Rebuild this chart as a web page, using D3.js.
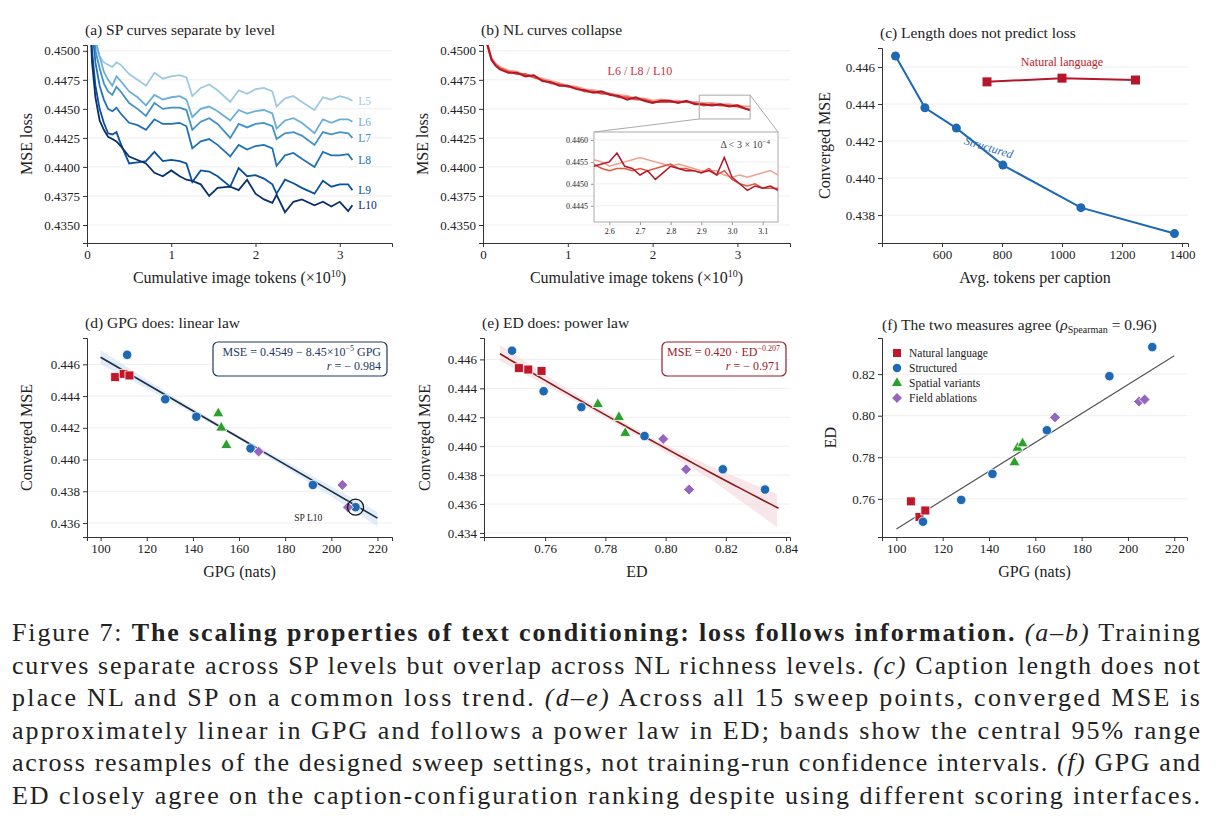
<!DOCTYPE html>
<html><head><meta charset="utf-8">
<script src="https://cdn.jsdelivr.net/npm/d3@7"></script>
<style>body{margin:0;background:#fff}text{font-family:"Liberation Serif","Times New Roman","DejaVu Serif",serif;fill:#222}</style>
</head><body><svg id="c" width="1219" height="827"></svg>
<script>
// ---------- DATA ----------
const spX = [0.03,0.06,0.1,0.15,0.2,0.25,0.3,0.35,0.4,0.5,0.6,0.7,0.8,0.9,1.0,1.1,1.18,1.25,1.35,1.45,1.55,1.7,1.8,1.9,2.0,2.1,2.2,2.25,2.35,2.45,2.55,2.7,2.8,2.9,3.0,3.1,3.15];
const spL5 = [0.4560,0.4530,0.4505,0.4495,0.4490,0.4488,0.4486,0.4490,0.4488,0.4480,0.4475,0.4470,0.4481,0.4476,0.4478,0.4479,0.4477,0.4461,0.4468,0.4471,0.4466,0.4456,0.4466,0.4463,0.4467,0.4468,0.4465,0.4452,0.4459,0.4461,0.4456,0.4449,0.4460,0.4458,0.4461,0.4459,0.4457];
const spL6 = [0.4570,0.4540,0.4510,0.4495,0.4482,0.4475,0.4470,0.4478,0.4474,0.4465,0.4460,0.4453,0.4462,0.4458,0.4460,0.4461,0.4458,0.4443,0.4450,0.4452,0.4448,0.4440,0.4449,0.4446,0.4448,0.4449,0.4446,0.4433,0.4440,0.4442,0.4438,0.4429,0.4441,0.4438,0.4441,0.4441,0.4439];
const spL7 = [0.4565,0.4530,0.4500,0.4485,0.4472,0.4465,0.4462,0.4469,0.4465,0.4455,0.4450,0.4444,0.4455,0.4450,0.4451,0.4451,0.4449,0.4432,0.4439,0.4442,0.4437,0.4425,0.4437,0.4434,0.4437,0.4438,0.4435,0.4424,0.4429,0.4430,0.4427,0.4419,0.4430,0.4428,0.4430,0.4429,0.4425];
const spL8 = [0.4560,0.4520,0.4490,0.4470,0.4458,0.4450,0.4448,0.4451,0.4446,0.4438,0.4436,0.4432,0.4441,0.4437,0.4437,0.4438,0.4435,0.4416,0.4422,0.4424,0.4419,0.4409,0.4419,0.4415,0.4418,0.4419,0.4416,0.4401,0.4410,0.4412,0.4407,0.4400,0.4413,0.4410,0.4410,0.4411,0.4406];
const spL9 = [0.4540,0.4500,0.4470,0.4450,0.4438,0.4429,0.4428,0.4430,0.4420,0.4403,0.4404,0.4405,0.4413,0.4405,0.4406,0.4405,0.4403,0.4387,0.4397,0.4396,0.4392,0.4383,0.4399,0.4392,0.4393,0.4390,0.4385,0.4377,0.4389,0.4386,0.4382,0.4377,0.4388,0.4383,0.4385,0.4385,0.4380];
const spL10 = [0.4540,0.4490,0.4460,0.4440,0.4432,0.4426,0.4424,0.4422,0.4418,0.4409,0.4406,0.4403,0.4395,0.4392,0.4397,0.4392,0.4389,0.4388,0.4385,0.4375,0.4382,0.4383,0.4380,0.4389,0.4377,0.4372,0.4369,0.4376,0.4361,0.4370,0.4372,0.4367,0.4370,0.4366,0.4370,0.4362,0.4367];
const spNames = ["L5","L6","L7","L8","L9","L10"];

const nlX = [0.02,0.05,0.1,0.15,0.2,0.3,0.4,0.5,0.6,0.7,0.8,0.9,1.0,1.1,1.2,1.3,1.4,1.5,1.6,1.7,1.8,1.9,2.0,2.1,2.2,2.3,2.4,2.5,2.6,2.7,2.8,2.9,3.0,3.1,3.15];
const nlL6 = [0.4532,0.4507,0.4494,0.4489,0.4486,0.4483,0.4482,0.4479,0.4478,0.4476,0.4474,0.4472,0.4470,0.4469,0.4467,0.4466,0.4465,0.4463,0.4462,0.4461,0.4459,0.4459,0.4457,0.4458,0.4457,0.4457,0.4456,0.4456,0.4455,0.4455,0.4454,0.4454,0.4453,0.4452,0.4452];
const nlL8 = [0.4528,0.4505,0.4493,0.4488,0.4485,0.4482,0.4480,0.4480,0.4477,0.4475,0.4472,0.4471,0.4469,0.4468,0.4465,0.4465,0.4463,0.4463,0.4460,0.4460,0.4458,0.4458,0.4456,0.4456,0.4456,0.4456,0.4456,0.4455,0.4453,0.4454,0.4453,0.4453,0.4452,0.4450,0.4449];
const nlL10 = [0.4530,0.4506,0.4492,0.4487,0.4484,0.4481,0.4481,0.4478,0.4479,0.4474,0.4473,0.4470,0.4470,0.4467,0.4466,0.4464,0.4465,0.4462,0.4461,0.4458,0.4460,0.4457,0.4455,0.4457,0.4457,0.4455,0.4457,0.4454,0.4454,0.4453,0.4454,0.4452,0.4453,0.4450,0.4449];
const inX = [2.55,2.575,2.6,2.625,2.65,2.675,2.7,2.725,2.75,2.775,2.8,2.825,2.85,2.875,2.9,2.925,2.95,2.975,3.0,3.025,3.05,3.075,3.1,3.125,3.15];
const inL6 = [0.44555,0.44550,0.44540,0.44545,0.44550,0.44555,0.44560,0.44555,0.44550,0.44545,0.44540,0.44545,0.44540,0.44535,0.44530,0.44530,0.44530,0.44520,0.44515,0.44520,0.44515,0.44520,0.44525,0.44530,0.44520];
const inL8 = [0.44545,0.44535,0.44530,0.44535,0.44535,0.44530,0.44535,0.44530,0.44535,0.44540,0.44545,0.44535,0.44535,0.44530,0.44525,0.44535,0.44520,0.44530,0.44510,0.44500,0.44495,0.44500,0.44490,0.44490,0.44490];
const inL10 = [0.44540,0.44545,0.44550,0.44570,0.44540,0.44535,0.44520,0.44530,0.44510,0.44525,0.44540,0.44535,0.44530,0.44530,0.44525,0.44530,0.44520,0.44560,0.44515,0.44500,0.44485,0.44495,0.44490,0.44495,0.44485];

const stTokens = [445,543,648,803,1063,1375];
const stMSE = [0.4466,0.4438,0.4427,0.4407,0.4384,0.4370];
const nlTokens = [750,1000,1245];
const nlMSE = [0.4452,0.4454,0.4453];

// sweep points: group, GPG, ED, MSE
const ptGroup = ["NL","NL","NL","ST","ST","ST","ST","ST","ST","SV","SV","SV","FA","FA","FA"];
const ptGPG = [106.3,110,112.5,111.5,128,141.5,165,192,210.5,151,152.3,154.5,168.5,204.8,207.2];
const ptED  = [0.7588,0.7513,0.7544,0.749,0.7595,0.772,0.793,0.819,0.833,0.7775,0.7845,0.7866,0.7992,0.8068,0.8078];
const ptMSE = [0.4452,0.4454,0.4453,0.4466,0.4438,0.4427,0.4407,0.4384,0.4370,0.4429,0.4420,0.4409,0.4405,0.4384,0.4370];

const linA = 0.4549, linB = -8.45e-5;
const bandDX = [100,130,160,190,220], bandDLo=[0.4460,0.4437,0.4413,0.4386,0.4358], bandDHi=[0.4469,0.4441,0.4415,0.4391,0.4367];
const powA = 0.420, powB = -0.207;
const bandEX = [0.745,0.77,0.795,0.815,0.837], bandELo=[0.4459,0.4431,0.4402,0.4377,0.4344], bandEHi=[0.4470,0.4436,0.4406,0.4386,0.4367];
const fLineX = [100,220], fLineY = [0.7455,0.8288];

const legendNames = ["Natural language","Structured","Spatial variants","Field ablations"];
const groups = ["NL","ST","SV","FA"];

// ---------- STYLE ----------
const FONT = '"Liberation Serif","Times New Roman","DejaVu Serif",serif';
const svg = d3.select("#c");
const blues = ["#9ecae1","#6baed6","#4292c6","#2171b5","#08519c","#08306b"];
const nlCols = ["#f1a08e","#e0593f","#b5162b"];
const gCol = {NL:"#c0182b",ST:"#1f68b3",SV:"#2ca02c",FA:"#9467bd"};
const gSym = {NL:d3.symbolSquare,ST:d3.symbolCircle,SV:d3.symbolTriangle,FA:d3.symbolSquare};
const gRot = {NL:0,ST:0,SV:0,FA:45};
const gSize = {NL:80,ST:70,SV:55,FA:60};

function panel(o){
  const x = d3.scaleLinear().domain(o.xd).range([o.l,o.r]);
  const y = d3.scaleLinear().domain(o.yd).range([o.b,o.t]);
  const g = svg.append("g");
  g.selectAll(".gr").data(o.yt).join("line").attr("x1",o.l).attr("x2",o.r)
    .attr("y1",d=>y(d)).attr("y2",d=>y(d)).attr("stroke","#eeeeee").attr("stroke-width",1);
  const ax = g.append("g").attr("transform",`translate(0,${o.b})`)
    .call(d3.axisBottom(x).tickValues(o.xt).tickFormat(o.xf).tickSize(4));
  const ay = g.append("g").attr("transform",`translate(${o.l},0)`)
    .call(d3.axisLeft(y).tickValues(o.yt).tickFormat(o.yf).tickSize(4));
  [ax,ay].forEach(a=>{a.attr("font-family",null);a.selectAll("path,line").attr("stroke","#333");a.selectAll("text").attr("font-size",o.fs||13).style("font-family",FONT).attr("fill","#222");});
  g.append("text").attr("x",o.l-2).attr("y",o.t-10).attr("font-size",15.5).text(o.title);
  g.append("text").attr("x",(o.l+o.r)/2).attr("y",o.b+40).attr("text-anchor","middle").attr("font-size",16).html(o.xl);
  g.append("text").attr("transform",`translate(${o.ylx},${(o.t+o.b)/2}) rotate(-90)`).attr("text-anchor","middle").attr("font-size",16).text(o.yl);
  const id="clip"+Math.random().toString(36).slice(2);
  g.append("clipPath").attr("id",id).append("rect").attr("x",o.l).attr("y",o.t).attr("width",o.r-o.l).attr("height",o.b-o.t);
  const cg = g.append("g").attr("clip-path",`url(#${id})`);
  return {g,cg,x,y};
}
const f4 = d3.format(".4f"), f3=d3.format(".3f"), f2=d3.format(".2f"), f0=d3.format("d");
const tokLabel = 'Cumulative image tokens (×10<tspan font-size="10" dy="-6">10</tspan><tspan dy="6">)</tspan>';
const lossTicks=[0.435,0.4375,0.44,0.4425,0.445,0.4475,0.45];

// (a)
const A = panel({l:87,r:392,t:45,b:243,xd:[0,3.62],yd:[0.43345,0.4505],xt:[0,1,2,3],xf:f0,yt:lossTicks,yf:f4,
  title:"(a) SP curves separate by level",xl:tokLabel,yl:"MSE loss",ylx:32});
[spL5,spL6,spL7,spL8,spL9,spL10].forEach((arr,i)=>{
  A.cg.append("path").datum(arr).attr("fill","none").attr("stroke",blues[i]).attr("stroke-width",1.8)
    .attr("d",d3.line().x((d,j)=>A.x(spX[j])).y(d=>A.y(d)));
  A.g.append("text").attr("x",A.x(3.22)).attr("y",A.y(arr[arr.length-1])+4).attr("font-size",11.5).style("fill",blues[i]).text(spNames[i]);
});

// (b)
const B = panel({l:483,r:790,t:45,b:243,xd:[0,3.62],yd:[0.43345,0.4505],xt:[0,1,2,3],xf:f0,yt:lossTicks,yf:f4,
  title:"(b) NL curves collapse",xl:tokLabel,yl:"MSE loss",ylx:428});
[nlL6,nlL8,nlL10].forEach((arr,i)=>{
  B.cg.append("path").datum(arr).attr("fill","none").attr("stroke",nlCols[i]).attr("stroke-width",2)
    .attr("d",d3.line().x((d,j)=>B.x(nlX[j])).y(d=>B.y(d)));
});
B.g.append("text").attr("x",B.x(1.85)).attr("y",B.y(0.4479)).attr("text-anchor","middle").attr("font-size",12).style("fill","#c8313f").text("L6 / L8 / L10");
const zx0=2.55,zx1=3.15,zy0=0.44413,zy1=0.44618;
const ix = d3.scaleLinear().domain([zx0,zx1]).range([594,778]);
const iy = d3.scaleLinear().domain([zy0,zy1]).range([222,132]);
B.g.append("rect").attr("x",B.x(zx0)).attr("y",B.y(zy1)).attr("width",B.x(zx1)-B.x(zx0)).attr("height",B.y(zy0)-B.y(zy1)).attr("fill","none").attr("stroke","#aaa");
B.g.append("line").attr("x1",B.x(zx0)).attr("y1",B.y(zy0)).attr("x2",594).attr("y2",132).attr("stroke","#aaa");
B.g.append("line").attr("x1",B.x(zx1)).attr("y1",B.y(zy1)).attr("x2",778).attr("y2",132).attr("stroke","#aaa");
B.g.append("rect").attr("x",594).attr("y",132).attr("width",184).attr("height",90).attr("fill","#fff").attr("stroke","#aaa");
B.g.append("clipPath").attr("id","inclip").append("rect").attr("x",594).attr("y",132).attr("width",184).attr("height",90);
[0.4445,0.445,0.4455,0.446].forEach(v=>B.g.append("line").attr("x1",594).attr("x2",778).attr("y1",iy(v)).attr("y2",iy(v)).attr("stroke","#f0f0f0"));
[inL6,inL8,inL10].forEach((arr,i)=>{
  B.g.append("path").datum(arr).attr("clip-path","url(#inclip)").attr("fill","none").attr("stroke",nlCols[i]).attr("stroke-width",1.5)
    .attr("d",d3.line().x((d,j)=>ix(inX[j])).y(d=>iy(d)));
});
const iax=B.g.append("g").attr("transform","translate(0,222)").call(d3.axisBottom(ix).tickValues([2.6,2.7,2.8,2.9,3.0,3.1]).tickFormat(d3.format(".1f")).tickSize(3));
const iay=B.g.append("g").attr("transform","translate(594,0)").call(d3.axisLeft(iy).tickValues([0.4445,0.445,0.4455,0.446]).tickFormat(f4).tickSize(3));
[iax,iay].forEach(a=>{a.attr("font-family",null);a.select(".domain").remove();a.selectAll("line").attr("stroke","#999");a.selectAll("text").attr("font-size",8).style("font-family",FONT);});
B.g.append("text").attr("x",770).attr("y",148).attr("text-anchor","end").attr("font-size",10).style("fill","#444")
  .html('Δ &lt; 3 × 10<tspan font-size="7" dy="-4">−4</tspan>');

// (c)
const C = panel({l:882,r:1188,t:48,b:243,xd:[400,1420],yd:[0.43649,0.44703],xt:[600,800,1000,1200,1400],xf:f0,yt:[0.438,0.44,0.442,0.444,0.446],yf:f3,
  title:"(c) Length does not predict loss",xl:"Avg. tokens per caption",yl:"Converged MSE",ylx:830});
C.g.append("path").datum(stMSE).attr("fill","none").attr("stroke",gCol.ST).attr("stroke-width",2).attr("d",d3.line().x((d,j)=>C.x(stTokens[j])).y(d=>C.y(d)));
C.g.selectAll(".sc").data(stMSE).join("circle").attr("cx",(d,j)=>C.x(stTokens[j])).attr("cy",d=>C.y(d)).attr("r",4.5).attr("fill",gCol.ST);
C.g.append("path").datum(nlMSE).attr("fill","none").attr("stroke","#b5162b").attr("stroke-width",2).attr("d",d3.line().x((d,j)=>C.x(nlTokens[j])).y(d=>C.y(d)));
C.g.selectAll(".nc").data(nlMSE).join("rect").attr("x",(d,j)=>C.x(nlTokens[j])-4.5).attr("y",d=>C.y(d)-4.5).attr("width",9).attr("height",9).attr("fill","#b5162b");
C.g.append("text").attr("x",C.x(1000)).attr("y",C.y(0.44605)).attr("text-anchor","middle").attr("font-size",12).style("fill","#c0182b").text("Natural language");
C.g.append("text").attr("transform",`translate(${C.x(752)},${C.y(0.44145)}) rotate(17)`).attr("text-anchor","middle").attr("font-size",12).style("fill","#1f68b3").style("font-style","italic").text("Structured");

function drawPts(P, xs, ys){
  P.g.selectAll(".pt").data(ptMSE.map((d,i)=>i)).join("path")
    .attr("transform",i=>`translate(${P.x(xs[i])},${P.y(ys[i])}) rotate(${gRot[ptGroup[i]]})`)
    .attr("d",i=>d3.symbol(gSym[ptGroup[i]],gSize[ptGroup[i]])())
    .attr("fill",i=>gCol[ptGroup[i]]).attr("stroke","#fff").attr("stroke-width",0.8);
}
function box(g,x0,y0,w,h,col,l1,l2){
  g.append("rect").attr("x",x0).attr("y",y0).attr("width",w).attr("height",h).attr("rx",5).attr("fill","#fff").attr("stroke",col).attr("stroke-width",1.2);
  g.append("text").attr("x",x0+w-6).attr("y",y0+14).attr("text-anchor","end").attr("font-size",12).style("fill",col).html(l1);
  g.append("text").attr("x",x0+w-6).attr("y",y0+28).attr("text-anchor","end").attr("font-size",12).style("fill",col).html(l2);
}
// (d)
const D = panel({l:87,r:392,t:338,b:537,xd:[94.1,226.3],yd:[0.43512,0.44766],xt:[100,120,140,160,180,200,220],xf:f0,yt:[0.436,0.438,0.44,0.442,0.444,0.446],yf:f3,
  title:"(d) GPG does: linear law",xl:"GPG (nats)",yl:"Converged MSE",ylx:32});
D.g.append("path").datum(bandDX).attr("fill","#c6dbef").attr("opacity",0.5)
  .attr("d",d3.area().x(d=>D.x(d)).y0((d,j)=>D.y(bandDLo[j])).y1((d,j)=>D.y(bandDHi[j])));
D.g.append("path").datum([100,220]).attr("stroke","#1a2e4a").attr("stroke-width",1.6).attr("fill","none")
  .attr("d",d3.line().x(d=>D.x(d)).y(d=>D.y(linA+linB*d)));
drawPts(D,ptGPG,ptMSE);
D.g.append("circle").attr("cx",D.x(210.5)).attr("cy",D.y(0.4370)).attr("r",8).attr("fill","none").attr("stroke","#111").attr("stroke-width",1.2);
D.g.append("text").attr("x",D.x(190)).attr("y",D.y(0.4361)).attr("text-anchor","middle").attr("font-size",9.5).text("SP L10");
box(D.g,213,342,174,34,"#1f3a5f",'MSE = 0.4549 − 8.45×10<tspan font-size="8" dy="-5">−5</tspan><tspan dy="5"> GPG</tspan>','<tspan font-style="italic">r</tspan> = − 0.984');

// (e)
const E = panel({l:484,r:790,t:338,b:537,xd:[0.7397,0.8413],yd:[0.43372,0.44748],xt:[0.76,0.78,0.80,0.82,0.84],xf:f2,yt:[0.434,0.436,0.438,0.44,0.442,0.444,0.446],yf:f3,
  title:"(e) ED does: power law",xl:"ED",yl:"Converged MSE",ylx:430});
E.g.append("path").datum(bandEX).attr("fill","#f4d7dc").attr("opacity",0.6)
  .attr("d",d3.area().x(d=>E.x(d)).y0((d,j)=>E.y(bandELo[j])).y1((d,j)=>E.y(bandEHi[j])));
E.g.append("path").datum(d3.range(0.745,0.8375,0.0025)).attr("stroke","#8b1a1a").attr("stroke-width",1.6).attr("fill","none")
  .attr("d",d3.line().x(d=>E.x(d)).y(d=>E.y(powA*Math.pow(d,powB))));
drawPts(E,ptED,ptMSE);
box(E.g,662,342,124,34,"#9b1b2a",'MSE = 0.420 · ED<tspan font-size="8" dy="-5">−0.207</tspan>','<tspan font-style="italic">r</tspan> = − 0.971');

// (f)
const F = panel({l:882,r:1187,t:338,b:537,xd:[93.8,225.5],yd:[0.74165,0.83737],xt:[100,120,140,160,180,200,220],xf:f0,yt:[0.76,0.78,0.80,0.82],yf:f2,
  title:"",xl:"GPG (nats)",yl:"ED",ylx:836});
F.g.append("text").attr("x",882).attr("y",330).attr("font-size",15.5)
  .html('(f) The two measures agree (<tspan font-style="italic">ρ</tspan><tspan font-size="10" dy="3">Spearman</tspan><tspan dy="-3"> = 0.96)</tspan>');
F.g.append("path").datum(fLineX).attr("stroke","#555").attr("stroke-width",1.2).attr("fill","none")
  .attr("d",d3.line().x(d=>F.x(d)).y((d,j)=>F.y(fLineY[j])));
drawPts(F,ptGPG,ptED);
groups.forEach((gr,i)=>{
  F.g.append("path").attr("transform",`translate(897,${353+15*i}) rotate(${gRot[gr]})`).attr("d",d3.symbol(gSym[gr],gSize[gr]*0.8)()).attr("fill",gCol[gr]);
  F.g.append("text").attr("x",909).attr("y",357+15*i).attr("font-size",11.5).text(legendNames[i]);
});

// caption
const cap = [
 'Figure 7: <tspan font-weight="bold">The scaling properties of text conditioning: loss follows information.</tspan> <tspan font-style="italic">(a–b)</tspan> Training',
 'curves separate across SP levels but overlap across NL richness levels. <tspan font-style="italic">(c)</tspan> Caption length does not',
 'place NL and SP on a common loss trend. <tspan font-style="italic">(d–e)</tspan> Across all 15 sweep points, converged MSE is',
 'approximately linear in GPG and follows a power law in ED; bands show the central 95% range',
 'across resamples of the designed sweep settings, not training-run confidence intervals. <tspan font-style="italic">(f)</tspan> GPG and',
 'ED closely agree on the caption-configuration ranking despite using different scoring interfaces.'];
cap.forEach((c,i)=>{
  svg.append("text").attr("x",12).attr("y",641+32.6*i).attr("font-size",26)
    .attr("textLength",1188).attr("lengthAdjust","spacing").html(c);
});
</script></body></html>
